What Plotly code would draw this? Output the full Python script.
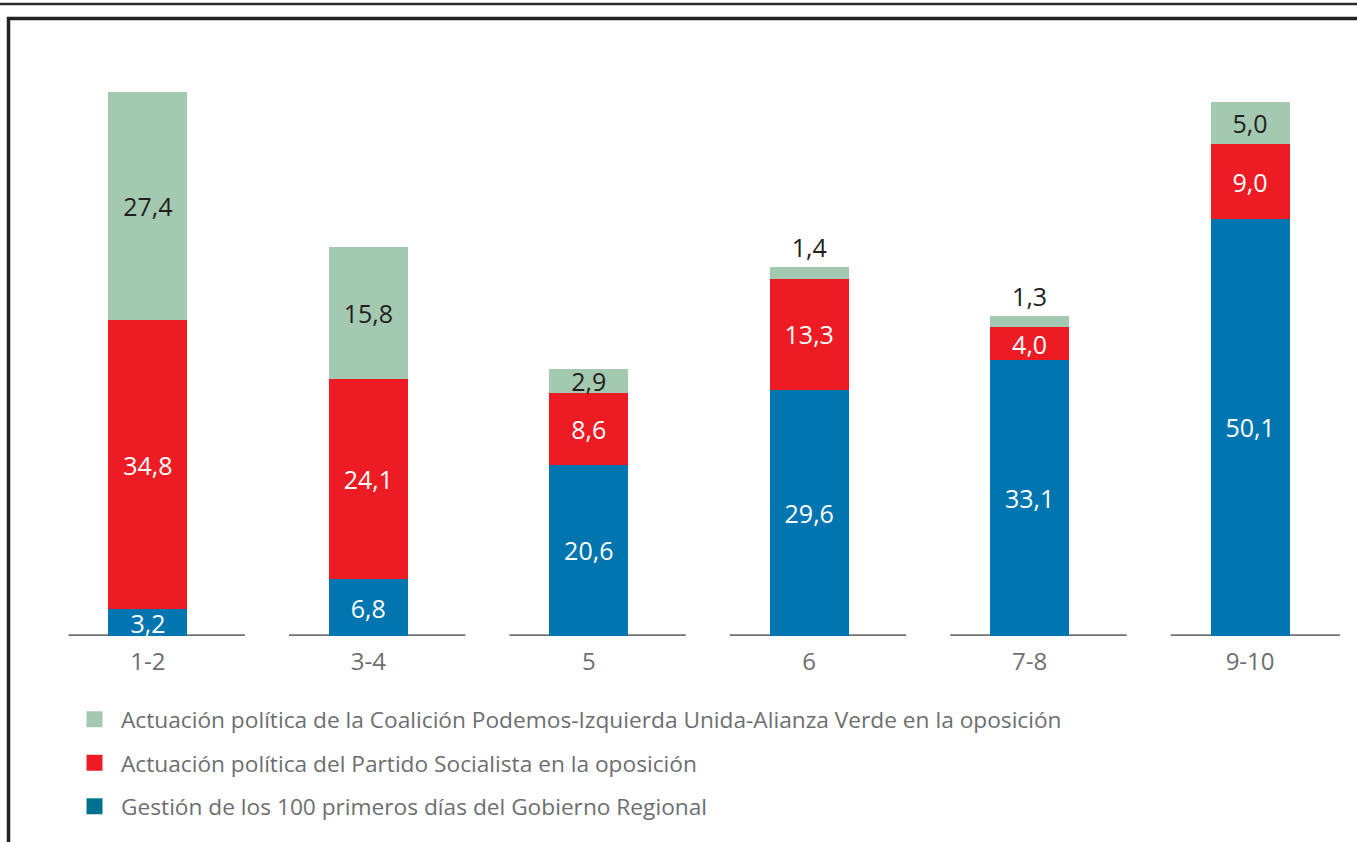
import plotly.graph_objects as go

categories = ["1-2", "3-4", "5", "6", "7-8", "9-10"]
gestion = [3.2, 6.8, 20.6, 29.6, 33.1, 50.1]
psoe = [34.8, 24.1, 8.6, 13.3, 4.0, 9.0]
podemos = [27.4, 15.8, 2.9, 1.4, 1.3, 5.0]

names = [
    "Gestión de los 100 primeros días del Gobierno Regional",
    "Actuación política del Partido Socialista en la oposición",
    "Actuación política de la Coalición Podemos-Izquierda Unida-Alianza Verde en la oposición",
]
colors = ["#0075b0", "#ed1c24", "#a3c9b0"]
legend_colors = ["#00728f", "#ed1c24", "#a3c9b0"]
text_colors = ["white", "white", "#231f20"]

FONT = "Open Sans"
W, H = 1357, 842
ML, MR, MT, MB = 30, 17, 40, 206
PW, PH = W - ML - MR, H - MT - MB

def fmt(v):
    return f"{v:.1f}".replace(".", ",")

x = list(range(len(categories)))
fig = go.Figure()
series = [gestion, psoe, podemos]
for i, vals in enumerate(series):
    if i == 2:
        tpos = ["outside" if v < 2 else "inside" for v in vals]
    else:
        tpos = "inside"
    fig.add_trace(go.Bar(
        x=x, y=vals, name=names[i],
        marker=dict(color=colors[i], line=dict(width=0)),
        text=[fmt(v) for v in vals],
        textposition=tpos,
        insidetextanchor="middle",
        constraintext="none",
        textangle=0,
        textfont=dict(family=FONT, size=25, color=text_colors[i]),
        outsidetextfont=dict(family=FONT, size=25, color="#231f20"),
        insidetextfont=dict(family=FONT, size=25, color=text_colors[i]),
        width=0.358,
        cliponaxis=False,
        hoverinfo="skip",
        showlegend=False,
    ))

# legend entries (square markers)
for i in [2, 1, 0]:
    fig.add_trace(go.Scatter(
        x=[None], y=[None], mode="markers", name=names[i],
        marker=dict(symbol="square", size=16, color=legend_colors[i]),
        legendgroup=names[i],
        showlegend=True,
    ))

shapes = []
# baseline segments beneath each bar
for xi in x:
    shapes.append(dict(type="line", xref="x", yref="y", x0=xi - 0.36, x1=xi + 0.44,
                       y0=0, y1=0, line=dict(color="#727275", width=3.5), layer="below"))

def px_x(p):
    return (p - ML) / PW

def px_y(p):
    return (H - MB - p) / PH

# frame lines
shapes.append(dict(type="line", xref="paper", yref="paper", x0=px_x(-5), x1=px_x(W + 5),
                   y0=px_y(4), y1=px_y(4), line=dict(color="#2b2b2b", width=2.5)))
shapes.append(dict(type="line", xref="paper", yref="paper", x0=px_x(7), x1=px_x(W + 5),
                   y0=px_y(18.5), y1=px_y(18.5), line=dict(color="#222222", width=3.5)))
shapes.append(dict(type="line", xref="paper", yref="paper", x0=px_x(8.5), x1=px_x(8.5),
                   y0=px_y(17), y1=px_y(H + 10), line=dict(color="#222222", width=3.5)))

fig.update_layout(
    width=W, height=H,
    margin=dict(l=ML, r=MR, t=MT, b=MB, autoexpand=False),
    barmode="stack",
    paper_bgcolor="white", plot_bgcolor="white",
    font=dict(family=FONT, color="#6d6e71", size=22),
    xaxis=dict(range=[-0.535, 5.408], tickvals=x, ticktext=categories,
               showgrid=False, zeroline=False, showline=False, ticks="",
               ticklabelstandoff=9,
               tickfont=dict(family=FONT, size=24, color="#6d6e71")),
    yaxis=dict(range=[0, 71.6], visible=False, showgrid=False, zeroline=False),
    showlegend=True,
    legend=dict(x=px_x(68), xanchor="left", y=px_y(698), yanchor="top",
                font=dict(family=FONT, size=22.7, color="#6d6e71"),
                tracegroupgap=11, itemsizing="trace", itemwidth=43,
                bgcolor="rgba(0,0,0,0)"),
    shapes=shapes,
)

fig.write_html("out.html", config={"displayModeBar": False},
               post_script="document.body.style.margin='0';")
